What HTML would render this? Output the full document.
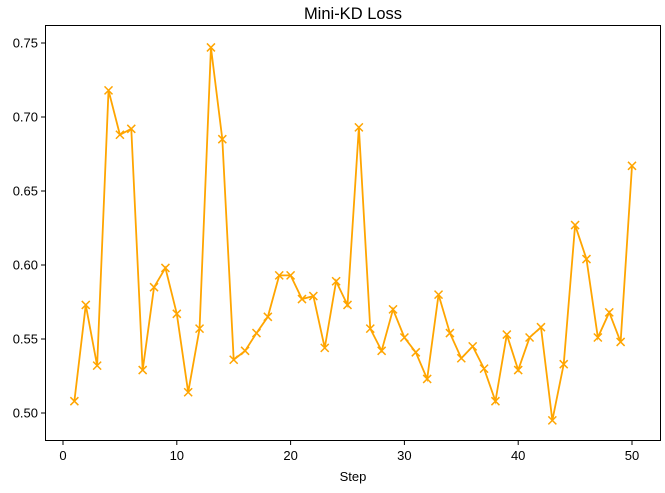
<!DOCTYPE html>
<html><head><meta charset="utf-8"><style>
body{margin:0;background:#fff;font-family:"Liberation Sans",sans-serif}
</style></head><body>
<svg id="chart" width="665" height="488">
<text x="353" y="19" font-size="16.5" text-anchor="middle">Mini-KD Loss</text>
<g id="axes"></g>
<g id="series"></g>
<rect x="45.5" y="25.5" width="615" height="415" fill="none" stroke="#000" stroke-width="1"/>
<text x="353" y="481" font-size="13" text-anchor="middle">Step</text>
</svg>
<script>
const steps=[];for(let i=1;i<=50;i++)steps.push(i);
const lossValues=[0.508,0.573,0.532,0.718,0.688,0.692,0.529,0.585,0.598,0.567,0.514,0.557,0.747,0.685,0.536,0.542,0.554,0.565,0.593,0.593,0.577,0.579,0.544,0.589,0.573,0.693,0.557,0.542,0.570,0.551,0.541,0.523,0.580,0.554,0.537,0.545,0.530,0.508,0.553,0.529,0.551,0.558,0.495,0.533,0.627,0.604,0.551,0.568,0.548,0.667];
const xTicks=[0,10,20,30,40,50];
const yTicks=[0.50,0.55,0.60,0.65,0.70,0.75];
const NS="http://www.w3.org/2000/svg";
const xs=v=>63+(v)*11.38;
const ys=v=>413-(v-0.5)*1480;
const ax=document.getElementById('axes'),se=document.getElementById('series');
function mk(t,a,p){const e=document.createElementNS(NS,t);for(const k in a)e.setAttribute(k,a[k]);p.appendChild(e);return e;}
xTicks.forEach(t=>{const x=xs(t);
const l=mk('line',{x1:x,x2:x,y1:441,y2:445,stroke:'#000'},ax);


const tx=mk('text',{x:x,y:460,'font-size':13,'text-anchor':'middle'},ax);tx.textContent=t;

});
yTicks.forEach(t=>{const y=ys(t);
const l=mk('line',{x1:41,x2:45,y1:y,y2:y,stroke:'#000'},ax);


const tx=mk('text',{x:38,y:y+4.5,'font-size':13,'text-anchor':'end'},ax);tx.textContent=t.toFixed(2);

});
const pts=steps.map((s,i)=>xs(s)+','+ys(lossValues[i])).join(' ');
const pl=mk('polyline',{points:pts,fill:'none',stroke:'#ffa500','stroke-width':1.8},se);


steps.forEach((s,i)=>{const x=xs(s),y=ys(lossValues[i]);
const m=mk('path',{d:`M${x-4},${y-4}L${x+4},${y+4}M${x-4},${y+4}L${x+4},${y-4}`,stroke:'#ffa500','stroke-width':1.5},se);

});
</script>
</body></html>
